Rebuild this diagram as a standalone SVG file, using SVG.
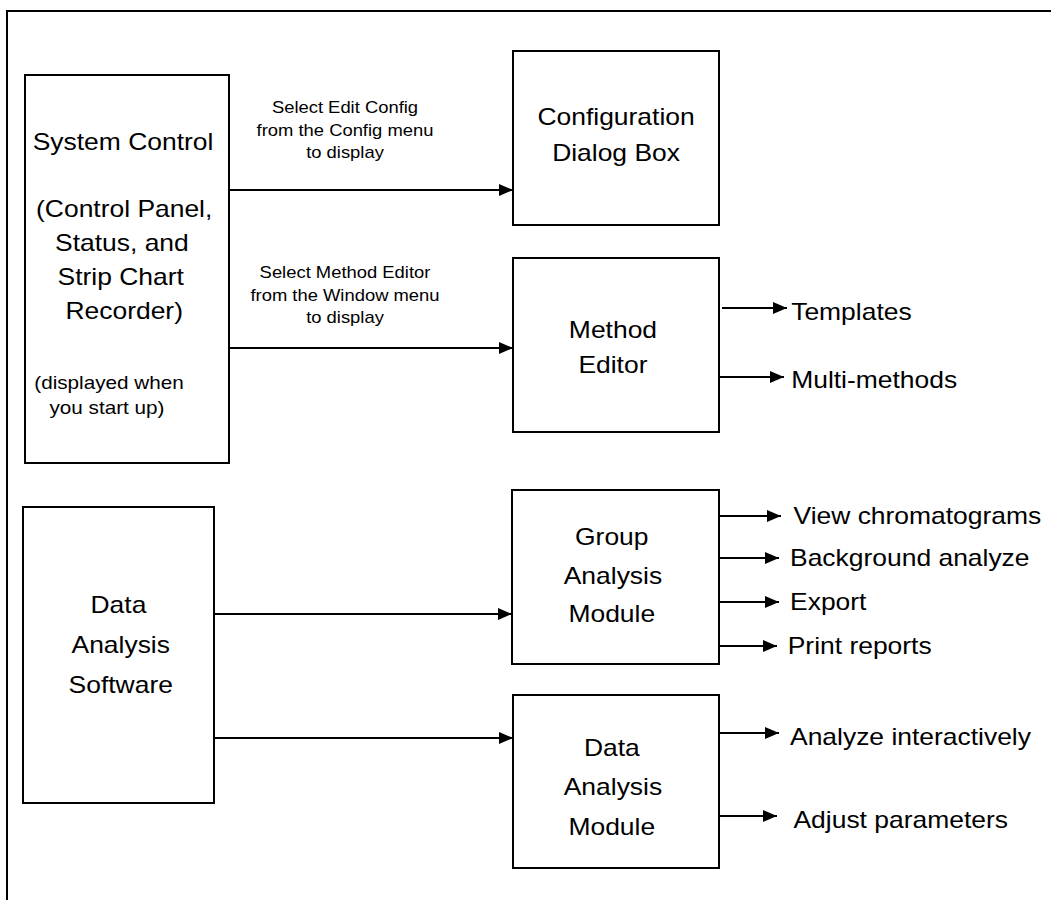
<svg xmlns="http://www.w3.org/2000/svg" width="1051" height="900" viewBox="0 0 1051 900">
<style>
.box{fill:#fff;stroke:#000;stroke-width:2}
.ln{fill:none;stroke:#000;stroke-width:2}
text{font-family:"Liberation Sans",Arial,Helvetica,sans-serif;fill:#000}
.m{font-size:23px;text-anchor:middle}
.s{font-size:18px;text-anchor:middle}
.l{font-size:16px;text-anchor:middle}
.o{font-size:23px;text-anchor:start}
</style>
<defs>
<marker id="ah" markerUnits="userSpaceOnUse" markerWidth="15" markerHeight="13" refX="14" refY="6" orient="auto">
<path d="M0,0 L14,6 L0,12 Z" fill="#000"/>
</marker>
</defs>
<rect width="1051" height="900" fill="#fff"/>
<path class="ln" d="M7,905 V11 H1056"/>
<g id="connectors">
<line class="ln" x1="229" y1="190" x2="513" y2="190" marker-end="url(#ah)"/>
<line class="ln" x1="229" y1="348" x2="513" y2="348" marker-end="url(#ah)"/>
<line class="ln" x1="214" y1="614" x2="512" y2="614" marker-end="url(#ah)"/>
<line class="ln" x1="214" y1="738" x2="513" y2="738" marker-end="url(#ah)"/>
<line class="ln" x1="722" y1="308" x2="787" y2="308" marker-end="url(#ah)"/>
<line class="ln" x1="719" y1="377" x2="784" y2="377" marker-end="url(#ah)"/>
<line class="ln" x1="719" y1="516" x2="781" y2="516" marker-end="url(#ah)"/>
<line class="ln" x1="719" y1="558" x2="779" y2="558" marker-end="url(#ah)"/>
<line class="ln" x1="719" y1="602" x2="779" y2="602" marker-end="url(#ah)"/>
<line class="ln" x1="719" y1="646" x2="777" y2="646" marker-end="url(#ah)"/>
<line class="ln" x1="719" y1="733" x2="779" y2="733" marker-end="url(#ah)"/>
<line class="ln" x1="719" y1="816" x2="777" y2="816" marker-end="url(#ah)"/>
</g>
<g id="system-control">
<rect class="box" x="25" y="75" width="204" height="388"/>
<g transform="scale(1.15,1)">
<text class="m" x="107" y="150">System Control</text>
<text class="m" x="108" y="217">(Control Panel,</text>
<text class="m" x="106" y="251">Status, and</text>
<text class="m" x="105" y="285">Strip Chart</text>
<text class="m" x="108" y="319">Recorder)</text>
<text class="s" x="94.8" y="389">(displayed when</text>
<text class="s" x="93" y="414">you start up)</text>
</g>
</g>
<g id="label-config">
<g transform="scale(1.15,1)">
<text class="l" x="300" y="113">Select Edit Config</text>
<text class="l" x="300" y="136">from the Config menu</text>
<text class="l" x="300" y="158">to display</text>
</g>
</g>
<g id="label-method">
<g transform="scale(1.15,1)">
<text class="l" x="300" y="278">Select Method Editor</text>
<text class="l" x="300" y="301">from the Window menu</text>
<text class="l" x="300" y="323">to display</text>
</g>
</g>
<g id="config-dialog">
<rect class="box" x="513" y="51" width="206" height="174"/>
<g transform="scale(1.15,1)">
<text class="m" x="535.7" y="125">Configuration</text>
<text class="m" x="535.7" y="161">Dialog Box</text>
</g>
</g>
<g id="method-editor">
<rect class="box" x="513" y="258" width="206" height="174"/>
<g transform="scale(1.15,1)">
<text class="m" x="533" y="338">Method</text>
<text class="m" x="533" y="373">Editor</text>
<text class="o" x="688" y="320">Templates</text>
<text class="o" x="688" y="388">Multi-methods</text>
</g>
</g>
<g id="data-analysis-software">
<rect class="box" x="23" y="507" width="191" height="296"/>
<g transform="scale(1.15,1)">
<text class="m" x="103" y="613">Data</text>
<text class="m" x="105" y="653">Analysis</text>
<text class="m" x="105" y="693">Software</text>
</g>
</g>
<g id="group-analysis-module">
<rect class="box" x="512" y="490" width="207" height="174"/>
<g transform="scale(1.15,1)">
<text class="m" x="532" y="545">Group</text>
<text class="m" x="533" y="584">Analysis</text>
<text class="m" x="532" y="622">Module</text>
<text class="o" x="690" y="524">View chromatograms</text>
<text class="o" x="687" y="566">Background analyze</text>
<text class="o" x="687" y="610">Export</text>
<text class="o" x="685" y="654">Print reports</text>
</g>
</g>
<g id="data-analysis-module">
<rect class="box" x="513" y="695" width="206" height="173"/>
<g transform="scale(1.15,1)">
<text class="m" x="532" y="756">Data</text>
<text class="m" x="533" y="795">Analysis</text>
<text class="m" x="532" y="835">Module</text>
<text class="o" x="687" y="745">Analyze interactively</text>
<text class="o" x="690" y="828">Adjust parameters</text>
</g>
</g>
</svg>
